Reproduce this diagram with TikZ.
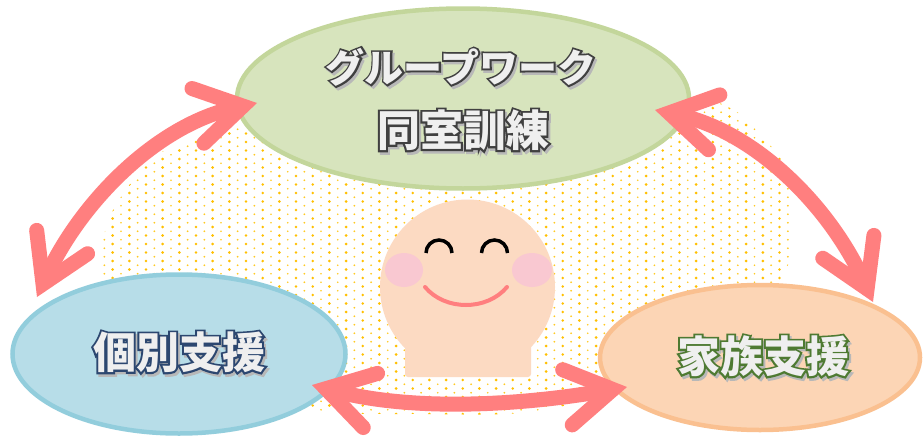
\documentclass[tikz,border=0pt]{standalone}
\usepackage{fontspec}
\newfontfamily\jpf{Noto Sans CJK JP}
\newfontfamily\jpline{Noto Sans CJK JP}[FakeBold=9, BoldFeatures={FakeBold=9}]
\usetikzlibrary{shapes.geometric,arrows.meta}

\definecolor{grpfill}{HTML}{D7E4BD}
\definecolor{grpline}{HTML}{C3D69B}
\definecolor{indfill}{HTML}{B7DDE8}
\definecolor{indline}{HTML}{92CDDC}
\definecolor{famfill}{HTML}{FCD5B5}
\definecolor{famline}{HTML}{FAC090}
\definecolor{arrowc}{HTML}{FF7F7F}
\definecolor{dotc}{HTML}{FFC000}
\definecolor{dotlight}{HTML}{FFCA20}
\definecolor{skin}{HTML}{FCDAC2}
\definecolor{cheek}{HTML}{F9C8D1}
\definecolor{txtfill}{HTML}{EFEFEF}
\definecolor{grpink}{HTML}{404040}
\definecolor{indink}{HTML}{2C4770}
\definecolor{famink}{HTML}{4E7A32}

% outlined label with a soft drop shadow: name, position, outline colour, size, text
\newcommand\poplabel[5]{%
  \node[popshadow, font=\jpline\bfseries\fontsize{#4}{#4}\selectfont, xshift=2pt, yshift=-2.5pt] at #2 {#5};
  \node[popedge, text=#3, font=\jpline\bfseries\fontsize{#4}{#4}\selectfont] at #2 {#5};
  \node[poptext, font=\jpf\bfseries\fontsize{#4}{#4}\selectfont] (#1) at #2 {#5};
}

\begin{document}
\begin{tikzpicture}[x=1pt,y=-1pt,
  bubble/.style={ellipse, draw, line width=4.5pt, inner sep=0pt},
  poptext/.style={text=txtfill, inner sep=0pt},
  popedge/.style={inner sep=0pt},
  popshadow/.style={text=black!28, inner sep=0pt},
  barbtip/.tip={Straight Barb[length=46pt,width=56pt,line cap=round,line join=miter]},
  twoway/.style={draw=arrowc, line width=15pt, barbtip-barbtip},
  eyeline/.style={draw=black, line width=3.5pt},
  smile/.style={draw=arrowc, line width=4pt, line cap=round}
]
\useasboundingbox (0,0) rectangle (923,439);
\fill[white] (0,0) rectangle (923,439);

% dotted backdrop
\begin{scope}
  \clip plot[smooth cycle] coordinates {
    (100,275) (104,235) (117,203) (150,160) (183,143) (233,125) (300,100)
    (460,78) (600,80) (693,94) (737,112) (763,137) (787,170) (794,220)
    (788,265) (760,300) (660,350) (600,395) (520,413) (420,414) (330,412)
    (250,395) (150,335)};
  \fill[dotc] \foreach \i in {0,...,42} { \foreach \j in {0,...,41}
    { (96+\i*16.67, 74+\j*8.5) circle (1.45pt) } };
  \fill[dotlight] \foreach \i in {0,...,42} { \foreach \j in {0,...,41}
    { (104.33+\i*16.67, 78.25+\j*8.5) circle (0.95pt) } };
\end{scope}

% the three support areas
\node[bubble, draw=grpline, fill=grpfill, minimum width=452pt, minimum height=180pt] (grp) at (463,98.5) {};
\node[bubble, draw=indline, fill=indfill, minimum width=333pt, minimum height=159pt] (ind) at (179,354) {};
\node[bubble, draw=famline, fill=famfill, minimum width=320pt, minimum height=145pt] (fam) at (760,357.5) {};

\poplabel{grpA}{(461,67)}{grpink}{39}{グループワーク}
\poplabel{grpB}{(463,130)}{grpink}{43}{同室訓練}
\poplabel{indA}{(179,352)}{indink}{43}{個別支援}
\poplabel{famA}{(763,356)}{famink}{43}{家族支援}

% smiling person in the middle
\fill[skin] (467.5,287) circle (87.5);
\fill[skin, rounded corners=3pt] (405,320) rectangle (531,377);
\fill[cheek] (404,270) ellipse [x radius=19, y radius=17];
\fill[cheek] (532,270) ellipse [x radius=20, y radius=17];
\draw[eyeline] (426,253) arc[start angle=180, end angle=360, radius=13];
\draw[eyeline] (481.5,253) arc[start angle=180, end angle=360, radius=13];
\draw[smile] (425,287) .. controls (445,311) and (487,311) .. (507,287);

% arrow ends
\coordinate (indTop) at (37,297);
\coordinate (grpLeft) at (257,103);
\coordinate (grpRight) at (655,110);
\coordinate (famTop) at (873,302);
\coordinate (indRight) at (312,385);
\coordinate (famLeft) at (627,387);

\draw[twoway] (indTop) .. controls (80,203) and (156,125) .. (grpLeft);
\draw[twoway] (grpRight) .. controls (756,131) and (831,208) .. (famTop);
\draw[twoway] (indRight) .. controls (414,412) and (523,405) .. (famLeft);
\end{tikzpicture}
\end{document}
